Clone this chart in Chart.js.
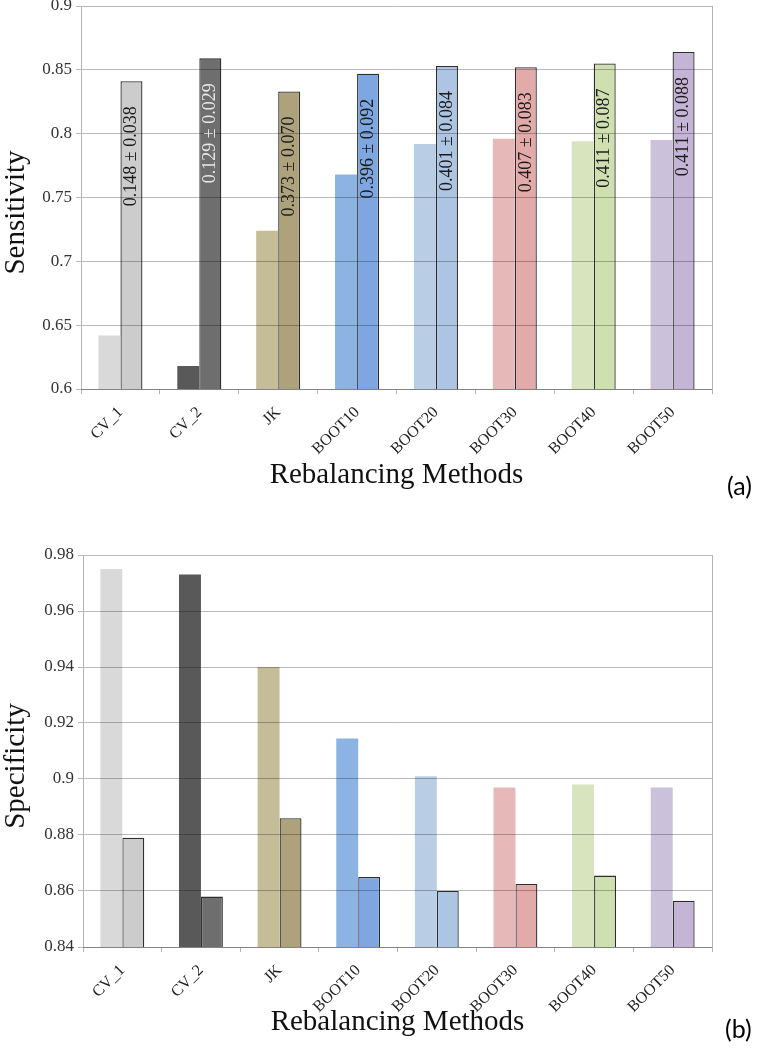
<!DOCTYPE html>
<html><head><meta charset="utf-8">
<script src="https://cdn.jsdelivr.net/npm/chart.js@4.4.1/dist/chart.umd.min.js"></script>
<style>
html,body{margin:0;padding:0;background:#fff;}
body{width:760px;height:1050px;position:relative;overflow:hidden;}
.box{position:absolute;left:0;width:760px;}
.tag{position:absolute;font-family:Lato,'Open Sans',sans-serif;font-size:25px;line-height:30px;color:#000;}
</style></head><body>
<div class="box" style="top:0;height:500px"><canvas id="c1"></canvas></div>
<div class="box" style="top:540px;height:500px"><canvas id="c2"></canvas></div>
<div class="tag" style="left:727px;top:470px">(a)</div>
<div class="tag" style="left:725px;top:1013px">(b)</div>
<script>
const categories = ['CV_1','CV_2','JK','BOOT10','BOOT20','BOOT30','BOOT40','BOOT50'];
const sensFirst  = [0.642,0.618,0.724,0.768,0.792,0.796,0.794,0.795];
const sensSecond = [0.841,0.859,0.833,0.847,0.853,0.852,0.855,0.864];
const sensLabels = ['0.148 ± 0.038','0.129 ± 0.029','0.373 ± 0.070','0.396 ± 0.092','0.401 ± 0.084','0.407 ± 0.083','0.411 ± 0.087','0.411 ± 0.088'];
const specFirst  = [0.975,0.973,0.940,0.9145,0.901,0.897,0.898,0.897];
const specSecond = [0.879,0.858,0.886,0.865,0.860,0.8625,0.8655,0.8565];
const sensTicks = [0.6,0.65,0.7,0.75,0.8,0.85,0.9];
const specTicks = [0.84,0.86,0.88,0.9,0.92,0.94,0.96,0.98];

const firstColors  = ['#d9d9d9','#595959','#c4bd97','#8db3e2','#b9cde5','#e6b9b8','#d7e4bd','#ccc1da'];
const secondColors = ['#cccccc','#6e6e6e','#ada27b','#7ea6e0','#adc4e3','#e2aaa9','#cfdfb0','#c4b5d6'];
const labelColors  = ['#1a1a1a','#e8e8e8','#1a1a1a','#1a1a1a','#1a1a1a','#1a1a1a','#1a1a1a','#1a1a1a'];

const SERIF = 'Liberation Serif';
const GRAY = '#b4b4b4';

const overlay = {
  id:'overlay',
  afterDraw(chart, args, opts){
    const ctx = chart.ctx, ca = chart.chartArea;
    ctx.save();
    // left and right frame lines of plot area
    ctx.strokeStyle = GRAY; ctx.lineWidth = 1;
    ctx.beginPath();
    ctx.moveTo(Math.round(ca.left)+0.5, ca.top);
    ctx.lineTo(Math.round(ca.left)+0.5, ca.bottom);
    ctx.moveTo(Math.round(ca.right)+0.5, ca.top);
    ctx.lineTo(Math.round(ca.right)+0.5, ca.bottom);
    ctx.stroke();
    if (opts.labels) {
      const meta = chart.getDatasetMeta(1);
      ctx.font = '18px "' + SERIF + '"';
      ctx.textAlign = 'right';
      ctx.textBaseline = 'middle';
      meta.data.forEach((el,i)=>{
        ctx.save();
        ctx.translate(el.x, el.y + opts.gap);
        ctx.rotate(-Math.PI/2);
        ctx.fillStyle = labelColors[i];
        ctx.fillText(opts.labels[i], 0, 0);
        ctx.restore();
      });
    }
    ctx.save();
    ctx.font = '29px "' + SERIF + '"';
    ctx.fillStyle = '#111';
    ctx.textAlign = 'center';
    ctx.textBaseline = 'middle';
    ctx.translate(opts.titleX, (ca.top + ca.bottom)/2 + opts.titleShift);
    ctx.rotate(-Math.PI/2);
    ctx.fillText(opts.yTitle, 0, 0);
    ctx.restore();
    ctx.restore();
  }
};

function makeChart(id, first, second, ticks, yTitle, labels, padTop, xHeight, yWidth, titlePadBottom){
  const step = +(ticks[1]-ticks[0]).toFixed(4);
  return new Chart(document.getElementById(id), {
    type:'bar',
    data:{
      labels: categories,
      datasets:[
        {data:first, backgroundColor:firstColors, borderWidth:0},
        {data:second, backgroundColor:secondColors, borderColor:'#2e2e2e', borderWidth:1.3, borderSkipped:false}
      ]
    },
    options:{
      responsive:true, maintainAspectRatio:false, animation:false,
      layout:{padding:{top:padTop, right:48, left:0, bottom:0}},
      datasets:{bar:{categoryPercentage:0.558, barPercentage:1.0}},
      plugins:{legend:{display:false}, tooltip:{enabled:false},
        overlay:{labels:labels, gap:25, yTitle:yTitle, titleX:16, titleShift:15}},
      scales:{
        x:{
          grid:{offset:true, drawOnChartArea:false, drawTicks:true, tickLength:5, color:GRAY},
          border:{display:true, color:GRAY},
          ticks:{autoSkip:false, minRotation:45, maxRotation:45, color:'#222', font:{family:SERIF, size:16}, padding:9},
          title:{display:true, text:'Rebalancing Methods', color:'#111', font:{family:SERIF, size:29}, padding:{top:0, bottom:titlePadBottom}},
          afterFit(s){ s.height = xHeight; s.paddingLeft = 0; s.paddingRight = 0; }
        },
        y:{
          min:ticks[0], max:ticks[ticks.length-1],
          afterBuildTicks(s){ s.ticks = ticks.map(v=>({value:v})); },
          grid:{color:'rgba(0,0,0,0.27)', tickLength:5, drawTicks:true, z:1},
          border:{display:false},
          ticks:{stepSize:step, color:'#333', font:{family:SERIF, size:17}, padding:4,
            callback:v=>String(+(+v).toFixed(2))},
          afterFit(s){ s.width = yWidth; s.paddingTop = 0; s.paddingBottom = 0; }
        }
      }
    },
    plugins:[overlay]
  });
}

makeChart('c1', sensFirst, sensSecond, sensTicks, 'Sensitivity', sensLabels, 6, 111, 81, 7);
makeChart('c2', specFirst, specSecond, specTicks, 'Specificity', null, 15, 93, 83, 0);
</script>
</body></html>
